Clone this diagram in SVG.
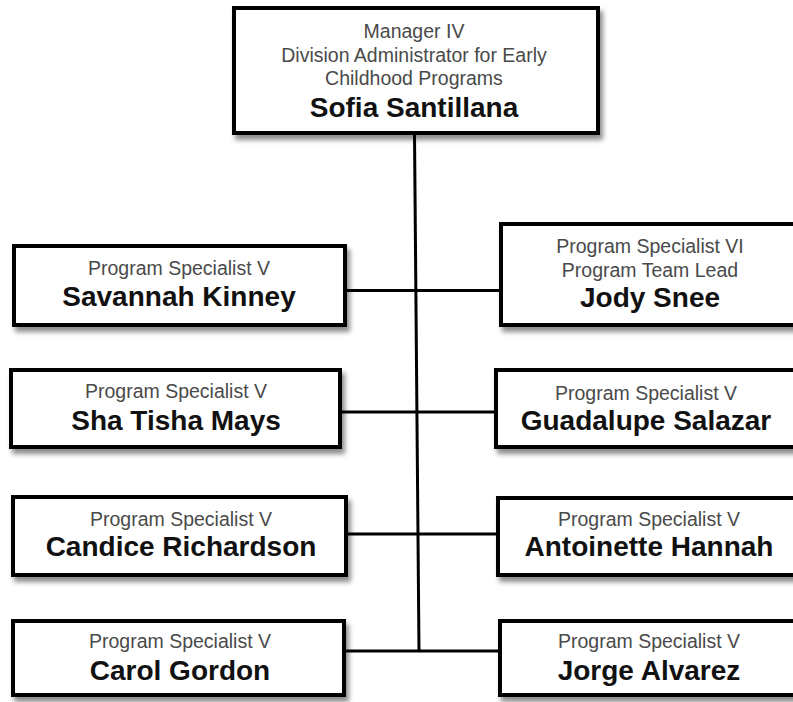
<svg xmlns="http://www.w3.org/2000/svg" width="793" height="702" viewBox="0 0 793 702">
<style>
.box{fill:#fff;stroke:#000;stroke-width:4;filter:url(#sh)}
.t{font-family:"Liberation Sans",Arial,sans-serif;font-size:19.5px;fill:#4a4a4a;text-anchor:middle}
.n{font-family:"Liberation Sans",Arial,sans-serif;font-size:28px;font-weight:bold;fill:#111;text-anchor:middle}
.ln{stroke:#000;stroke-width:3;fill:none}
</style>
<defs>
<filter id="sh" x="-10%" y="-10%" width="130%" height="140%">
<feDropShadow dx="3" dy="5" stdDeviation="2.5" flood-color="#000" flood-opacity="0.45"/>
</filter>
</defs>
<rect width="793" height="702" fill="#fff"/>
<g id="connectors">
<line class="ln" x1="414.5" y1="134" x2="419" y2="651"/>
<line class="ln" x1="345" y1="290.5" x2="501" y2="290.5"/>
<line class="ln" x1="340" y1="412" x2="496" y2="412"/>
<line class="ln" x1="346" y1="534" x2="498" y2="534"/>
<line class="ln" x1="344" y1="651" x2="500" y2="651"/>
</g>
<g id="n-sofia">
<rect class="box" x="234" y="8" width="364" height="125"/>
<text class="t" x="414" y="37.5">Manager IV</text>
<text class="t" x="414" y="61.5">Division Administrator for Early</text>
<text class="t" x="414" y="85">Childhood Programs</text>
<text class="n" x="414" y="117">Sofia Santillana</text>
</g>
<g id="n-savannah">
<rect class="box" x="14" y="246" width="331" height="79"/>
<text class="t" x="179" y="275">Program Specialist V</text>
<text class="n" x="179" y="306">Savannah Kinney</text>
</g>
<g id="n-shatisha">
<rect class="box" x="11" y="370" width="329" height="77"/>
<text class="t" x="176" y="398">Program Specialist V</text>
<text class="n" x="176" y="430">Sha Tisha Mays</text>
</g>
<g id="n-candice">
<rect class="box" x="13" y="497" width="333" height="78"/>
<text class="t" x="181" y="525.5">Program Specialist V</text>
<text class="n" x="181" y="556">Candice Richardson</text>
</g>
<g id="n-carol">
<rect class="box" x="13" y="621" width="331" height="74"/>
<text class="t" x="180" y="648">Program Specialist V</text>
<text class="n" x="180" y="680">Carol Gordon</text>
</g>
<g id="n-jody">
<rect class="box" x="501" y="224" width="310" height="101"/>
<text class="t" x="650" y="253">Program Specialist VI</text>
<text class="t" x="650" y="277">Program Team Lead</text>
<text class="n" x="650" y="307">Jody Snee</text>
</g>
<g id="n-guadalupe">
<rect class="box" x="496" y="370" width="310" height="77"/>
<text class="t" x="646" y="400">Program Specialist V</text>
<text class="n" x="646" y="430">Guadalupe Salazar</text>
</g>
<g id="n-antoinette">
<rect class="box" x="498" y="498" width="310" height="77"/>
<text class="t" x="649" y="525.5">Program Specialist V</text>
<text class="n" x="649" y="556">Antoinette Hannah</text>
</g>
<g id="n-jorge">
<rect class="box" x="500" y="621" width="310" height="74"/>
<text class="t" x="649" y="648">Program Specialist V</text>
<text class="n" x="649" y="680">Jorge Alvarez</text>
</g>
</svg>
